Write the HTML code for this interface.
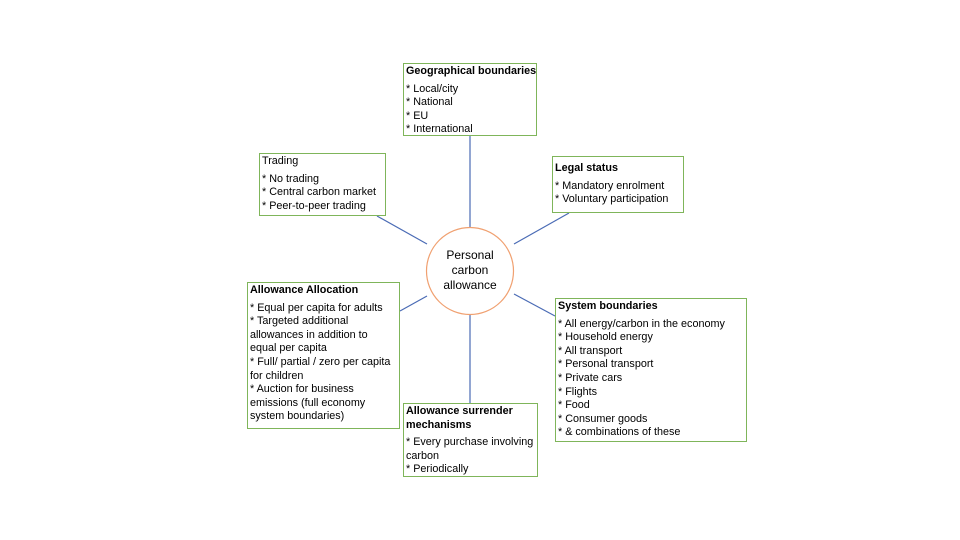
<!DOCTYPE html>
<html><head><meta charset="utf-8"><style>
body{margin:0;width:960px;height:540px;background:#fff;position:relative;overflow:hidden;font-family:"Liberation Sans",sans-serif;}
.b{position:absolute;border:1.5px solid #7fb55a;box-sizing:border-box;font-size:10.8px;line-height:13.6px;color:#000;padding:1px 0 0 2px;white-space:nowrap;}
.b b{display:block;margin-bottom:4px;}
.t{display:block;margin-bottom:4px;}
</style></head><body>
<svg width="960" height="540" style="position:absolute;left:0;top:0">
<g stroke="#4a6bb5" stroke-width="1.2">
<line x1="470" y1="135" x2="470" y2="229"/>
<line x1="377" y1="216" x2="427" y2="244"/>
<line x1="569" y1="213" x2="514" y2="244"/>
<line x1="400" y1="311" x2="427" y2="296"/>
<line x1="514" y1="294" x2="555" y2="316"/>
<line x1="470" y1="310" x2="470" y2="403"/>
</g>
<circle cx="470" cy="271" r="43.5" fill="#fff" stroke="#f0a070" stroke-width="1.2"/>
<text x="470" y="259" font-size="12" text-anchor="middle" font-family="Liberation Sans">Personal</text>
<text x="470" y="274" font-size="12" text-anchor="middle" font-family="Liberation Sans">carbon</text>
<text x="470" y="289" font-size="12" text-anchor="middle" font-family="Liberation Sans">allowance</text>
</svg>
<div class="b" style="left:403px;top:63px;width:134px;height:73px"><b>Geographical boundaries</b>* Local/city<br>* National<br>* EU<br>* International</div>
<div class="b" style="left:259px;top:153px;width:127px;height:63px"><span class="t">Trading</span>* No trading<br>* Central carbon market<br>* Peer-to-peer trading</div>
<div class="b" style="left:552px;top:156px;width:132px;height:57px;padding-top:5px"><b>Legal status</b>* Mandatory enrolment<br>* Voluntary participation</div>
<div class="b" style="left:247px;top:282px;width:153px;height:147px"><b>Allowance Allocation</b>* Equal per capita for adults<br>* Targeted additional<br>allowances in addition to<br>equal per capita<br>* Full/ partial / zero per capita<br>for children<br>* Auction for business<br>emissions (full economy<br>system boundaries)</div>
<div class="b" style="left:403px;top:403px;width:135px;height:74px"><b>Allowance surrender<br>mechanisms</b>* Every purchase involving<br>carbon<br>* Periodically</div>
<div class="b" style="left:555px;top:298px;width:192px;height:144px"><b>System boundaries</b>* All energy/carbon in the economy<br>* Household energy<br>* All transport<br>* Personal transport<br>* Private cars<br>* Flights<br>* Food<br>* Consumer goods<br>* &amp; combinations of these</div>
</body></html>
